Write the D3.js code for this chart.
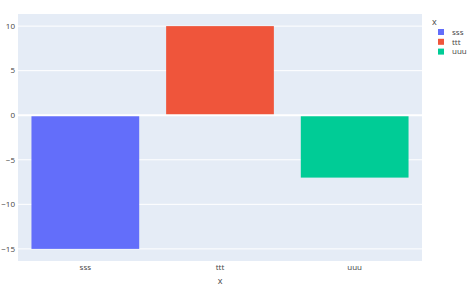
<!DOCTYPE html>
<html><head><meta charset="utf-8">
<script src="https://cdn.jsdelivr.net/npm/d3@7"></script>
<style>body{margin:0;background:#fff}svg{display:block}text{font-family:"Open Sans",Arial,sans-serif;fill:#444}</style>
</head><body>
<script>
const categories = ["sss", "ttt", "uuu"];
const values = [-15, 10, -7];
const colors = ["#636efa", "#EF553B", "#00cc96"];
const yTicks = [-15, -10, -5, 0, 5, 10];
const legendTitle = "x";
const xTitle = "x";

const W = 474, H = 289;
const m = {l: 18, r: 52, t: 14, b: 28};
const svg = d3.select("body").append("svg").attr("width", W).attr("height", H);
const x = d3.scaleBand().domain(categories).range([m.l, W - m.r]).paddingInner(0.2).paddingOuter(0.1);
const y = d3.scaleLinear().domain([-16.36, 11.36]).range([H - m.b, m.t]);

svg.append("rect").attr("x", m.l).attr("y", m.t).attr("width", W - m.l - m.r).attr("height", H - m.t - m.b).attr("fill", "#E5ECF6");
svg.append("g").selectAll("line").data(yTicks.filter(d => d !== 0)).join("line")
  .attr("x1", m.l).attr("x2", W - m.r).attr("y1", d => y(d)).attr("y2", d => y(d))
  .attr("stroke", "#fff").attr("stroke-width", 1);

svg.append("g").selectAll("rect").data(categories).join("rect")
  .attr("x", d => x(d)).attr("width", x.bandwidth())
  .attr("y", (d, i) => y(Math.max(0, values[i])))
  .attr("height", (d, i) => Math.abs(y(values[i]) - y(0)))
  .attr("fill", (d, i) => colors[i]);

svg.append("line").attr("x1", m.l).attr("x2", W - m.r).attr("y1", y(0)).attr("y2", y(0)).attr("stroke", "#fff").attr("stroke-width", 2);

svg.append("g").selectAll("text").data(yTicks).join("text")
  .attr("x", m.l - 3).attr("y", d => y(d)).attr("dy", "0.35em").attr("text-anchor", "end")
  .attr("font-size", 8).text(d => d < 0 ? "\u2212" + Math.abs(d) : d);

svg.append("g").selectAll("text").data(categories).join("text")
  .attr("x", d => x(d) + x.bandwidth() / 2).attr("y", H - m.b + 9).attr("text-anchor", "middle")
  .attr("font-size", 8).text(d => d);

svg.append("text").attr("x", (m.l + W - m.r) / 2).attr("y", 284).attr("text-anchor", "middle").attr("font-size", 9).text(xTitle);

const lg = svg.append("g");
lg.append("text").attr("x", 432).attr("y", 25).attr("font-size", 9).text(legendTitle);
const items = lg.selectAll("g").data(categories).join("g").attr("transform", (d, i) => `translate(0,${32 + i * 9.8})`);
items.append("rect").attr("x", 438).attr("y", -3).attr("width", 6).attr("height", 6).attr("fill", (d, i) => colors[i]);
items.append("text").attr("x", 452).attr("y", 0).attr("dy", "0.35em").attr("font-size", 8).text(d => d);
</script>
</body></html>
